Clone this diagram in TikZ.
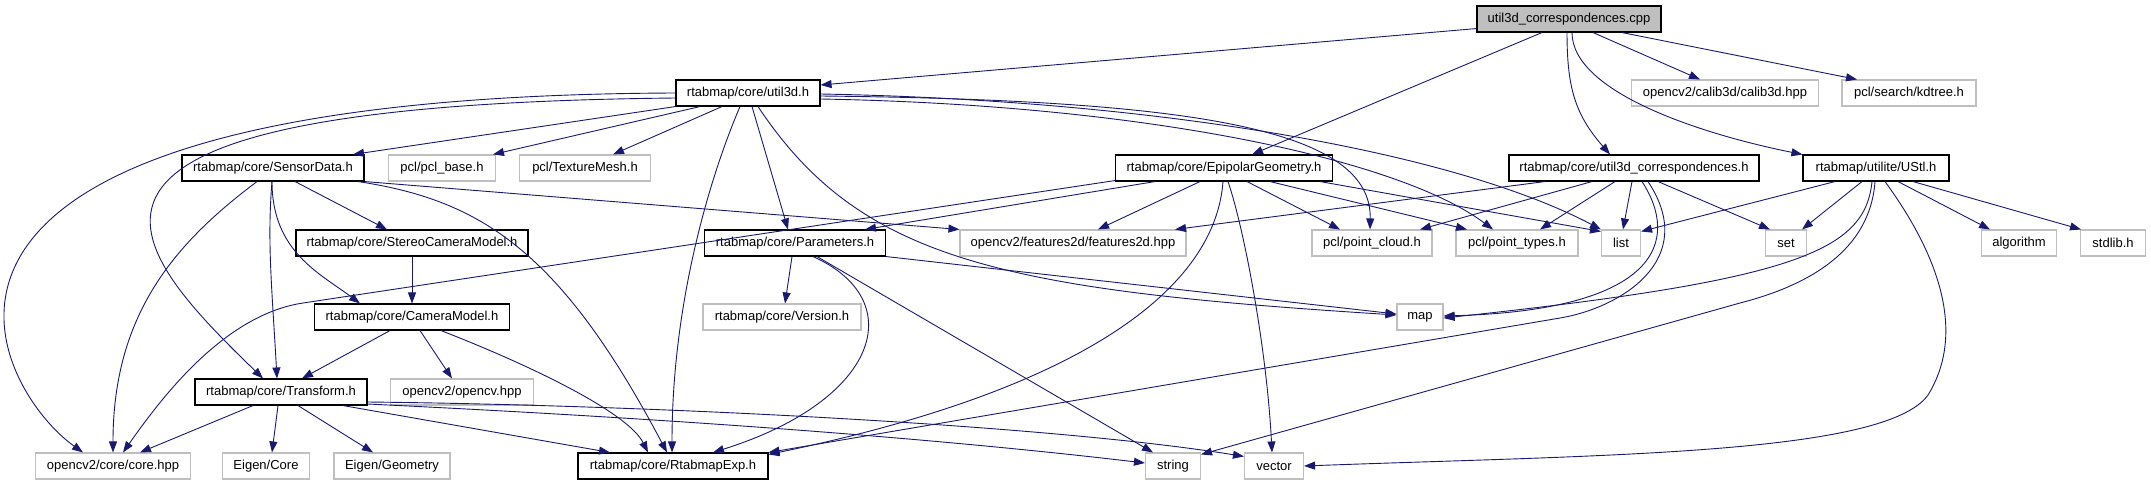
\documentclass[tikz,border=0pt]{standalone}
\usepackage{fontspec}
\setmainfont{Liberation Sans}
\definecolor{edgenavy}{RGB}{25,25,112}
\definecolor{extgray}{RGB}{191,191,191}
\usepackage{tikz}
\usetikzlibrary{arrows.meta}
\tikzset{
  incbox/.style={rectangle,draw=black,line width=1.1pt,minimum width=#1pt,
                 minimum height=26pt,inner sep=0pt,
                 font=\fontsize{13}{15}\selectfont},
  incbox/.default=100,
  extbox/.style={incbox=#1,draw=extgray},
  rootbox/.style={incbox=#1,fill=extgray},
  dep/.style={-{Triangle[length=11pt,width=8pt]},edgenavy,line width=0.9pt},
}

\begin{document}
\begin{tikzpicture}[x=1pt,y=-1pt]
  \useasboundingbox (0,0) rectangle (2151,485);

  \node[rootbox=184] (cpp) at (1569,19) {util3d\_correspondences.cpp};

  \foreach \n/\x/\y/\w/\t in {util3d/748/93/144/{rtabmap/core/util3d.h},
                              sensordata/273/168/182/{rtabmap/core/SensorData.h},
                              epipolar/1224/168/217/{rtabmap/core/EpipolarGeometry.h},
                              util3dcorr/1634/168/250/{rtabmap/core/util3d\_correspondences.h},
                              ustl/1876/168/146/{rtabmap/utilite/UStl.h},
                              stereocam/412/243/232/{rtabmap/core/StereoCameraModel.h},
                              parameters/795/243/181/{rtabmap/core/Parameters.h},
                              cameramodel/412/317/195/{rtabmap/core/CameraModel.h},
                              transform/281/392/172/{rtabmap/core/Transform.h},
                              rtabmapexp/673/466/190/{rtabmap/core/RtabmapExp.h}}{
    \node[incbox=\w] (\n) at (\x,\y) {\t};
  }

  \foreach \n/\x/\y/\w/\t in {calib3d/1725/93/187/{opencv2/calib3d/calib3d.hpp},
                              kdtree/1909/93/134/{pcl/search/kdtree.h},
                              pclbase/442/168/107/{pcl/pcl\_base.h},
                              texturemesh/585/168/131/{pcl/TextureMesh.h},
                              features2d/1073/243/226/{opencv2/features2d/features2d.hpp},
                              pointcloud/1372/243/120/{pcl/point\_cloud.h},
                              pointtypes/1517/243/122/{pcl/point\_types.h},
                              list/1621/243/39/{list},
                              set/1786/243/41/{set},
                              algorithm/2019/243/75/{algorithm},
                              stdlib/2113/243/65/{stdlib.h},
                              version/782/317/158/{rtabmap/core/Version.h},
                              map/1420/317/46/{map},
                              opencv/462/392/143/{opencv2/opencv.hpp},
                              corehpp/113/466/155/{opencv2/core/core.hpp},
                              eigencore/266/466/87/{Eigen/Core},
                              eigengeom/392/466/116/{Eigen/Geometry},
                              string/1173/466/55/{string},
                              vector/1274/466/59/{vector}}{
    \node[extbox=\w] (\n) at (\x,\y) {\t};
  }

  \draw[dep] ([yshift=4pt]cpp.south west) -- ([yshift=8pt]util3d.east);
  \draw[dep] ([xshift=-27pt]cpp.south) -- ([xshift=28pt]epipolar.north);
  \draw[dep] ([xshift=-2pt]cpp.south) .. controls +(0,55) and +(-35,-40) .. ([xshift=-24pt]util3dcorr.north);
  \draw[dep] ([xshift=3pt]cpp.south) .. controls +(0,60) and +(-100,-20) .. (ustl.north west);
  \draw[dep] ([xshift=24pt]cpp.south) -- ([xshift=-25pt]calib3d.north);
  \draw[dep] ([xshift=53pt]cpp.south) -- ([xshift=-52pt]kdtree.north);

  \draw[dep] (util3d.west) .. controls (-180,96) and (-5,390) .. ([xshift=-30pt]corehpp.north);
  \draw[dep] ([yshift=-5pt]util3d.west) .. controls (0,105) and (120,240) .. ([xshift=-18pt]transform.north);
  \draw[dep] (util3d.south west) -- ([xshift=80pt]sensordata.north);
  \draw[dep] ([xshift=-48pt]util3d.south) -- ([xshift=51pt]pclbase.north);
  \draw[dep] ([xshift=-26pt]util3d.south) -- ([xshift=28pt]texturemesh.north);
  \draw[dep] ([xshift=-8pt]util3d.south) .. controls +(-30,70) and +(0,-150) .. ([xshift=-1pt]rtabmapexp.north);
  \draw[dep] ([xshift=4pt]util3d.south) -- ([xshift=-7pt]parameters.north);
  \draw[dep] ([xshift=10pt]util3d.south) .. controls (860,260) and (1000,290) .. ([yshift=2pt]map.west);
  \draw[dep] ([yshift=-3pt]util3d.east) .. controls (1200,100) and (1372,130) .. ([xshift=-2pt]pointcloud.north);
  \draw[dep] ([yshift=-6pt]util3d.east) .. controls (1150,105) and (1400,160) .. ([xshift=-24pt]pointtypes.north);
  \draw[dep] ([yshift=-1pt]util3d.east) .. controls (1150,100) and (1450,150) .. (list.north west);

  \draw[dep] ([xshift=-16pt]sensordata.south) .. controls +(-80,60) and +(0,-140) .. (corehpp.north);
  \draw[dep] ([xshift=-1pt]sensordata.south) .. controls +(-5,60) and +(-5,-90) .. ([xshift=-4pt]transform.north);
  \draw[dep] ([xshift=-1pt]sensordata.south) .. controls +(0,70) and +(-40,-30) .. ([xshift=-52pt]cameramodel.north);
  \draw[dep] ([xshift=22pt]sensordata.south) -- ([xshift=-25pt]stereocam.north);
  \draw[dep] ([xshift=85pt]sensordata.south) .. controls (480,200) and (560,250) .. ([xshift=-6pt]rtabmapexp.north);
  \draw[dep] (sensordata.south east) -- (features2d.north west);

  \draw[dep] (stereocam) -- (cameramodel);

  \draw[dep] ([xshift=-22pt]cameramodel.south) -- ([xshift=21pt]transform.north);
  \draw[dep] ([xshift=8pt]cameramodel.south) -- ([xshift=-10pt]opencv.north);
  \draw[dep] ([xshift=29pt]cameramodel.south) .. controls +(90,35) and +(-20,-40) .. ([xshift=-25pt]rtabmapexp.north);

  \draw[dep] ([xshift=-28pt]transform.south) -- ([xshift=27pt]corehpp.north);
  \draw[dep] ([xshift=-3pt]transform.south) -- ([xshift=6pt]eigencore.north);
  \draw[dep] ([xshift=17pt]transform.south) -- ([xshift=-19pt]eigengeom.north);
  \draw[dep] ([xshift=62pt]transform.south) -- ([xshift=-63pt]rtabmapexp.north);
  \draw[dep] ([yshift=-12pt]transform.east) .. controls (700,420) and (950,440) .. ([yshift=3pt]string.west);
  \draw[dep] ([yshift=-10pt]transform.east) .. controls (650,405) and (1050,425) .. ([yshift=-4pt]vector.north west);

  \draw[dep] ([xshift=-3pt]parameters.south) -- ([xshift=3pt]version.north);
  \draw[dep] ([xshift=18pt]parameters.south) .. controls (910,300) and (880,400) .. ([xshift=40pt]rtabmapexp.north);
  \draw[dep] ([xshift=22pt]parameters.south) -- ([xshift=-20pt]string.north);
  \draw[dep] (parameters.south east) -- ([yshift=3pt]map.west);

  \draw[dep] ([yshift=1pt]epipolar.south west) -- (303,303) .. controls (223,315) and (160,400) .. ([xshift=10pt]corehpp.north);
  \draw[dep] ([xshift=-69pt]epipolar.south) -- ([xshift=70pt]parameters.north);
  \draw[dep] ([xshift=-24pt]epipolar.south) -- ([xshift=25pt]features2d.north);
  \draw[dep] ([xshift=-1pt]epipolar.south) .. controls (1215,290) and (1080,390) .. ([yshift=-2pt]rtabmapexp.north east);
  \draw[dep] ([xshift=4pt]epipolar.south) .. controls +(17,50) and +(-5,-100) .. ([xshift=-2pt]vector.north);
  \draw[dep] ([xshift=23pt]epipolar.south) -- ([xshift=-32pt]pointcloud.north);
  \draw[dep] ([xshift=46pt]epipolar.south) -- ([xshift=-50pt]pointtypes.north);
  \draw[dep] ([xshift=96pt]epipolar.south) -- ([yshift=-2pt]list.north west);

  \draw[dep] ([xshift=-89pt]util3dcorr.south) -- ([xshift=102pt]features2d.north);
  \draw[dep] ([xshift=-42pt]util3dcorr.south) -- ([xshift=48pt]pointcloud.north);
  \draw[dep] ([xshift=-19pt]util3dcorr.south) -- ([xshift=23pt]pointtypes.north);
  \draw[dep] ([xshift=-2pt]util3dcorr.south) -- ([xshift=2pt]list.north);
  \draw[dep] ([xshift=8pt]util3dcorr.south) .. controls (1680,240) and (1660,310) .. ([yshift=1pt]map.east);
  \draw[dep] ([xshift=14pt]util3dcorr.south) .. controls (1700,260) and (1620,308) .. (1560,318) -- (rtabmapexp.north east);
  \draw[dep] ([xshift=24pt]util3dcorr.south) -- ([xshift=-16pt]set.north);

  \draw[dep] ([xshift=-41pt]ustl.south) -- ([yshift=-2pt]list.north east);
  \draw[dep] ([xshift=-14pt]ustl.south) -- ([xshift=16pt]set.north);
  \draw[dep] ([xshift=-4pt]ustl.south) .. controls (1865,250) and (1800,280) .. ([yshift=-1pt]map.east);
  \draw[dep] ([xshift=-1pt]ustl.south) .. controls (1870,250) and (1810,285) .. (1740,303) -- ([yshift=-2pt]string.north east);
  \draw[dep] ([xshift=9pt]ustl.south) .. controls (1935,250) and (1968,330) .. (1928,395) .. controls (1885,455) and (1600,455) .. (vector.east);
  \draw[dep] ([xshift=22pt]ustl.south) -- ([xshift=-29pt]algorithm.north);
  \draw[dep] ([xshift=37pt]ustl.south) -- ([xshift=-32pt]stdlib.north);
\end{tikzpicture}
\end{document}
